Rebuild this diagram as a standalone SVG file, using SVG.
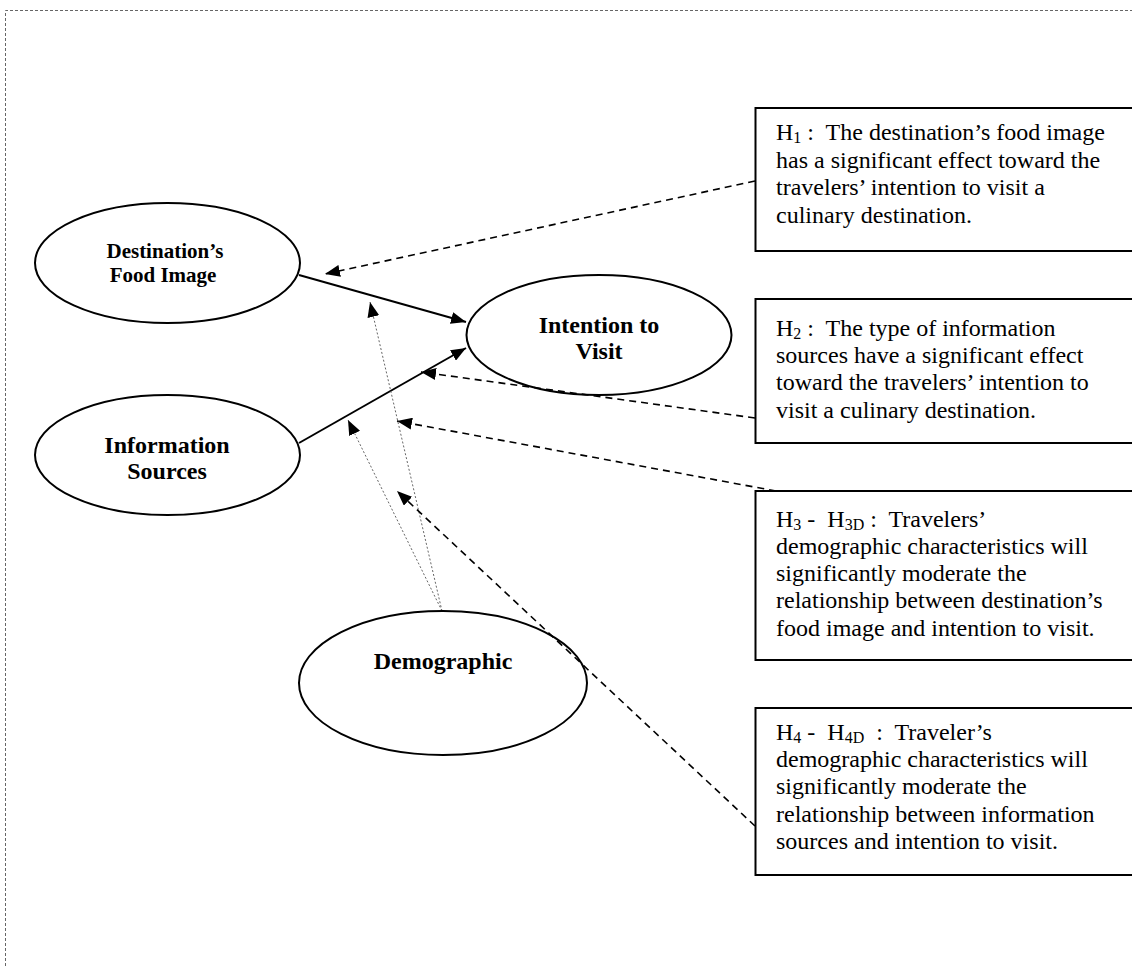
<svg xmlns="http://www.w3.org/2000/svg" width="1132" height="966" viewBox="0 0 1132 966">
<style>
  .frame { fill: none; stroke: #666; stroke-width: 1; stroke-dasharray: 3 2; }
  .node ellipse, .node rect { fill: #fff; stroke: #000; stroke-width: 2; }
  .lbl { font-family: "Liberation Serif", "Times New Roman", serif; font-weight: bold; font-size: 24px; fill: #000; text-anchor: middle; }
  .hyp { font-family: "Liberation Serif", "Times New Roman", serif; font-size: 24px; fill: #000; white-space: pre; }
  .sub { font-size: 16px; }
  .solid { stroke: #000; stroke-width: 2; fill: none; marker-end: url(#ah); }
  .dash { stroke: #000; stroke-width: 1.6; fill: none; stroke-dasharray: 7 5; marker-end: url(#ah); }
  .dot { stroke: #555; stroke-width: 0.9; fill: none; stroke-dasharray: 2 2; marker-end: url(#ah); }
</style>
<defs>
  <marker id="ah" markerUnits="userSpaceOnUse" markerWidth="15" markerHeight="12" refX="15" refY="6" orient="auto">
    <path d="M0,0 L15,6 L0,12 z" fill="#000"/>
  </marker>
</defs>
<rect x="0" y="0" width="1132" height="966" fill="#fff"/>
<path class="frame" d="M5.5,966 V10.5 H1132"/>

<g id="connectors">
  <line class="solid" x1="299" y1="275" x2="466" y2="322"/>
  <line class="solid" x1="299" y1="443" x2="466" y2="348"/>
  <line class="dot" x1="442" y1="611" x2="370" y2="302"/>
  <line class="dot" x1="442" y1="611" x2="348" y2="420"/>
</g>

<g id="destination-food-image" class="node">
  <ellipse cx="167.5" cy="263" rx="132.5" ry="60"/>
  <text class="lbl" x="165" y="258" style="font-size:21px">Destination’s</text>
  <text class="lbl" x="163" y="282" style="font-size:21px">Food Image</text>
</g>
<g id="information-sources" class="node">
  <ellipse cx="167.5" cy="455" rx="132.5" ry="60"/>
  <text class="lbl" x="167" y="453">Information</text>
  <text class="lbl" x="167" y="479">Sources</text>
</g>
<g id="intention-to-visit" class="node">
  <ellipse cx="599" cy="335" rx="132.5" ry="60"/>
  <text class="lbl" x="599" y="333">Intention to</text>
  <text class="lbl" x="599" y="359">Visit</text>
</g>
<g id="demographic" class="node">
  <ellipse cx="443" cy="683" rx="144" ry="72"/>
  <text class="lbl" x="443" y="669">Demographic</text>
</g>

<g id="h1" class="node">
  <rect x="755.5" y="108" width="400" height="143"/>
  <text class="hyp" x="776" y="140">H<tspan class="sub" dy="3">1</tspan><tspan dy="-3"> :  The destination’s food image</tspan></text>
  <text class="hyp" x="776" y="168">has a significant effect toward the</text>
  <text class="hyp" x="776" y="195">travelers’ intention to visit a</text>
  <text class="hyp" x="776" y="223">culinary destination.</text>
</g>
<g id="h2" class="node">
  <rect x="755.5" y="299" width="400" height="144"/>
  <text class="hyp" x="776" y="336">H<tspan class="sub" dy="3">2</tspan><tspan dy="-3"> :  The type of information</tspan></text>
  <text class="hyp" x="776" y="363">sources have a significant effect</text>
  <text class="hyp" x="776" y="390">toward the travelers’ intention to</text>
  <text class="hyp" x="776" y="418">visit a culinary destination.</text>
</g>
<g id="h3" class="node">
  <rect x="755.5" y="491" width="400" height="169"/>
  <text class="hyp" x="776" y="527">H<tspan class="sub" dy="3">3</tspan><tspan dy="-3"> -  H</tspan><tspan class="sub" dy="3">3D</tspan><tspan dy="-3"> :  Travelers’</tspan></text>
  <text class="hyp" x="776" y="554">demographic characteristics will</text>
  <text class="hyp" x="776" y="581">significantly moderate the</text>
  <text class="hyp" x="776" y="608">relationship between destination’s</text>
  <text class="hyp" x="776" y="636">food image and intention to visit.</text>
</g>
<g id="h4" class="node">
  <rect x="755.5" y="708" width="400" height="167"/>
  <text class="hyp" x="776" y="740">H<tspan class="sub" dy="3">4</tspan><tspan dy="-3"> -  H</tspan><tspan class="sub" dy="3">4D</tspan><tspan dy="-3">  :  Traveler’s</tspan></text>
  <text class="hyp" x="776" y="767">demographic characteristics will</text>
  <text class="hyp" x="776" y="794">significantly moderate the</text>
  <text class="hyp" x="776" y="822">relationship between information</text>
  <text class="hyp" x="776" y="849">sources and intention to visit.</text>
</g>

<g id="hypothesis-connectors">
  <line class="dash" x1="755" y1="181" x2="325" y2="274"/>
  <line class="dash" x1="755" y1="418" x2="421" y2="372"/>
  <line class="dash" x1="776" y1="491" x2="397" y2="421"/>
  <line class="dash" x1="755" y1="826" x2="397" y2="491"/>
</g>
</svg>
